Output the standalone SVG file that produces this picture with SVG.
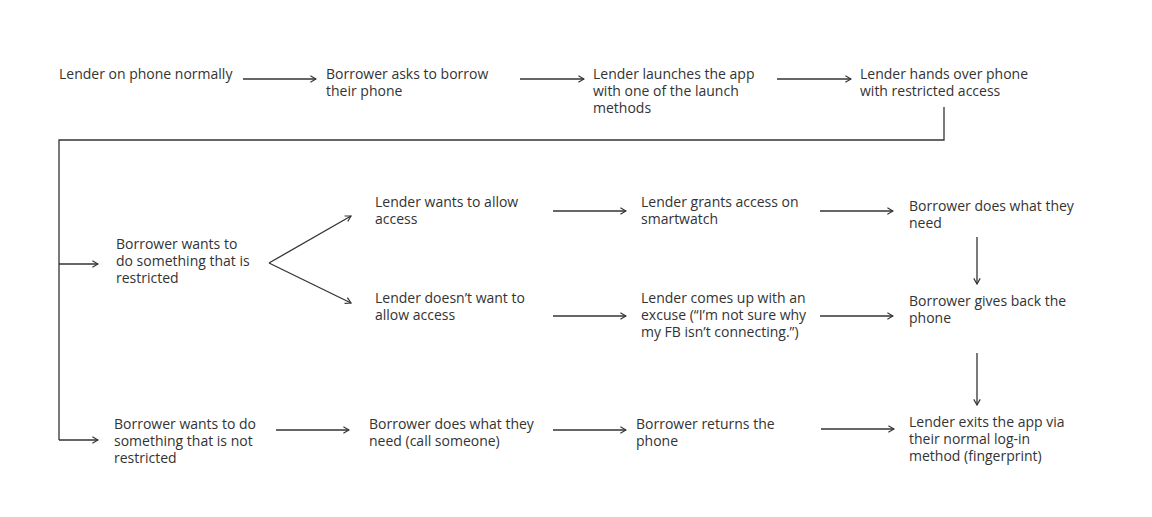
<svg xmlns="http://www.w3.org/2000/svg" width="1152" height="517" viewBox="0 0 1152 517">
<style>
text{font-family:"Open Sans","Liberation Sans",sans-serif;font-size:14px;fill:#333;}
.c{fill:none;stroke:#333;stroke-width:1.3;}
.a{marker-end:url(#ah);}
</style>
<defs>
<marker id="ah" viewBox="0 0 10 10" refX="9" refY="5" markerWidth="8" markerHeight="8" orient="auto" markerUnits="userSpaceOnUse">
<path d="M2,1 L9,5 L2,9" fill="none" stroke="#333" stroke-width="1.5"/>
</marker>
</defs>
<rect width="1152" height="517" fill="#fff"/>
<g id="connectors">
<path class="c a" d="M243,79 H316"/>
<path class="c a" d="M520,79 H584"/>
<path class="c a" d="M777,79 H851"/>
<path class="c" d="M944,107 V140 H59 V440"/>
<path class="c a" d="M59,264 H98"/>
<path class="c a" d="M59,440 H98"/>
<path class="c a" d="M269,263 L351,216"/>
<path class="c a" d="M269,263 L351,303"/>
<path class="c a" d="M553,211 H626"/>
<path class="c a" d="M820,211 H893"/>
<path class="c a" d="M553,316 H626"/>
<path class="c a" d="M820,316 H893"/>
<path class="c a" d="M977,237 V284"/>
<path class="c a" d="M977,353 V405"/>
<path class="c a" d="M276,430 H349"/>
<path class="c a" d="M553,430 H626"/>
<path class="c a" d="M821,429 H894"/>
</g>
<g id="n1"><text x="59" y="79">Lender on phone normally</text></g>
<g id="n2"><text x="326" y="79"><tspan x="326">Borrower asks to borrow</tspan><tspan x="326" dy="17">their phone</tspan></text></g>
<g id="n3"><text x="593" y="79"><tspan x="593">Lender launches the app</tspan><tspan x="593" dy="17">with one of the launch</tspan><tspan x="593" dy="17">methods</tspan></text></g>
<g id="n4"><text x="860" y="79"><tspan x="860">Lender hands over phone</tspan><tspan x="860" dy="17">with restricted access</tspan></text></g>
<g id="n5"><text x="116" y="249"><tspan x="116">Borrower wants to</tspan><tspan x="116" dy="17">do something that is</tspan><tspan x="116" dy="17">restricted</tspan></text></g>
<g id="n6"><text x="375" y="207"><tspan x="375">Lender wants to allow</tspan><tspan x="375" dy="17">access</tspan></text></g>
<g id="n7"><text x="641" y="207"><tspan x="641">Lender grants access on</tspan><tspan x="641" dy="17">smartwatch</tspan></text></g>
<g id="n8"><text x="909" y="211"><tspan x="909">Borrower does what they</tspan><tspan x="909" dy="17">need</tspan></text></g>
<g id="n9"><text x="375" y="303"><tspan x="375">Lender doesn’t want to</tspan><tspan x="375" dy="17">allow access</tspan></text></g>
<g id="n10"><text x="641" y="303"><tspan x="641">Lender comes up with an</tspan><tspan x="641" dy="17">excuse (“I’m not sure why</tspan><tspan x="641" dy="17">my FB isn’t connecting.”)</tspan></text></g>
<g id="n11"><text x="909" y="306"><tspan x="909">Borrower gives back the</tspan><tspan x="909" dy="17">phone</tspan></text></g>
<g id="n12"><text x="114" y="429"><tspan x="114">Borrower wants to do</tspan><tspan x="114" dy="17">something that is not</tspan><tspan x="114" dy="17">restricted</tspan></text></g>
<g id="n13"><text x="369" y="429"><tspan x="369">Borrower does what they</tspan><tspan x="369" dy="17">need (call someone)</tspan></text></g>
<g id="n14"><text x="636" y="429"><tspan x="636">Borrower returns the</tspan><tspan x="636" dy="17">phone</tspan></text></g>
<g id="n15"><text x="909" y="427"><tspan x="909">Lender exits the app via</tspan><tspan x="909" dy="17">their normal log-in</tspan><tspan x="909" dy="17">method (fingerprint)</tspan></text></g>
</svg>
